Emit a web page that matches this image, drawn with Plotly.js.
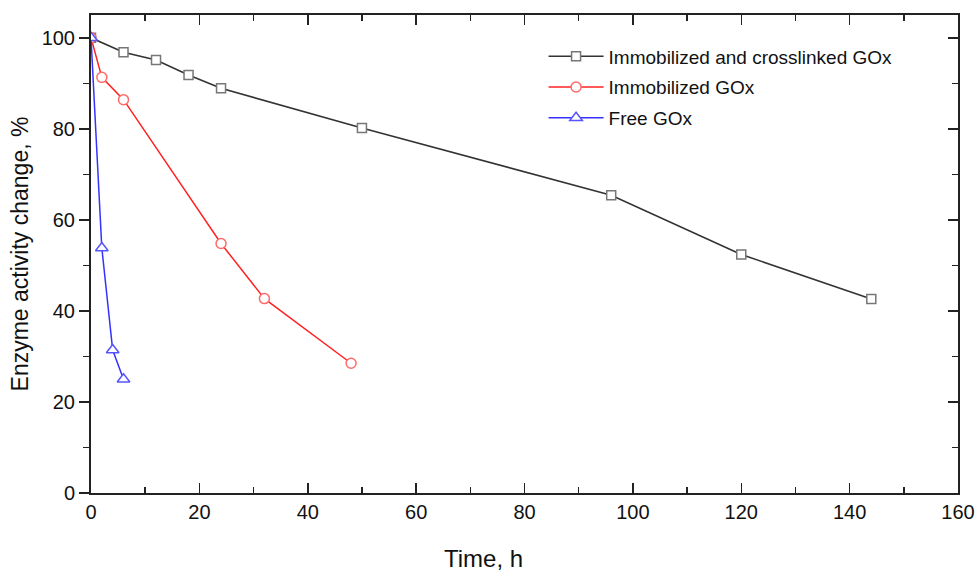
<!DOCTYPE html>
<html>
<head>
<meta charset="utf-8">
<script src="https://cdn.plot.ly/plotly-3.0.1.min.js"></script>
<style>html,body{margin:0;padding:0;background:#fff}#chart{width:977px;height:574px}</style>
</head>
<body>
<div id="chart"></div>
<script>
const seriesNames = ["Immobilized and crosslinked GOx", "Immobilized GOx", "Free GOx"];
const timeCross = [0, 6, 12, 18, 24, 50, 96, 120, 144];
const actCross = [100, 96.8, 95.1, 91.8, 88.9, 80.2, 65.4, 52.4, 42.6];
const timeImmob = [0, 2, 6, 24, 32, 48];
const actImmob = [100, 91.3, 86.4, 54.8, 42.7, 28.5];
const timeFree = [0, 2, 4, 6];
const actFree = [100, 53.8, 31.4, 25];
const xTitle = "Time, h";
const yTitle = "Enzyme activity change, %";

const font = "Liberation Sans, Arial, sans-serif";
const traces = [
  {x: timeCross, y: actCross, name: seriesNames[0], legendgroup: "a", mode: "lines+markers",
   line: {color: "#333333", width: 1.6},
   marker: {symbol: "square", size: 9, color: "#ffffff", line: {color: "#777777", width: 1.5}}},
  {x: timeImmob, y: actImmob, name: seriesNames[1], legendgroup: "b", mode: "lines+markers",
   line: {color: "#ff2222", width: 1.5},
   marker: {symbol: "circle", size: 10, color: "#ffffff", line: {color: "#ff6a6a", width: 1.5}}},
  {x: timeFree, y: actFree, name: seriesNames[2], legendgroup: "c", mode: "lines+markers",
   line: {color: "#3333ff", width: 1.5},
   marker: {symbol: "triangle-up", size: 11, color: "#ffffff", line: {color: "#5555ff", width: 1.5}}},
  {x: [0], y: [0], xaxis: "x2", yaxis: "y2", showlegend: false, hoverinfo: "skip",
   mode: "markers", marker: {opacity: 0}}
];

const tk = {showgrid: false, zeroline: false, showline: true, linecolor: "#222", linewidth: 2,
            ticklen: 10, tickwidth: 1.5, tickcolor: "#222", dtick: 20, tick0: 0};

const layout = {
  width: 977, height: 574,
  margin: {l: 91, r: 19, t: 15, b: 81},
  paper_bgcolor: "#fff", plot_bgcolor: "#fff",
  font: {family: font, color: "#111", size: 16},
  showlegend: true,
  legend: {x: 0.522, y: 0.953, xanchor: "left", yanchor: "top", bgcolor: "rgba(0,0,0,0)",
           font: {family: font, size: 19, color: "#111"}, itemwidth: 55, tracegroupgap: 3},
  xaxis: Object.assign({}, tk, {range: [0, 160], ticks: "inside",
          minor: {dtick: 10, ticks: "inside", ticklen: 6, tickwidth: 1.5, tickcolor: "#222", showgrid: false},
          tickfont: {family: font, size: 20, color: "#111"}}),
  yaxis: Object.assign({}, tk, {range: [0, 105], ticks: "outside",
          minor: {dtick: 10, ticks: "outside", ticklen: 6, tickwidth: 1.5, tickcolor: "#222", showgrid: false},
          tickfont: {family: font, size: 20, color: "#111"},
          title: {text: yTitle, font: {family: font, size: 23, color: "#111"}, standoff: 7}}),
  xaxis2: Object.assign({}, tk, {overlaying: "x", side: "top", range: [0, 160], showticklabels: false, ticks: "inside",
           minor: {dtick: 10, ticks: "inside", ticklen: 6, tickwidth: 1.5, tickcolor: "#222", showgrid: false}}),
  yaxis2: Object.assign({}, tk, {overlaying: "y", side: "right", range: [0, 105], showticklabels: false, ticks: "inside",
           minor: {dtick: 10, ticks: "inside", ticklen: 6, tickwidth: 1.5, tickcolor: "#222", showgrid: false}}),
  annotations: [{text: xTitle, xref: "paper", yref: "paper", x: 0.453, y: -0.138,
                 xanchor: "center", yanchor: "middle", showarrow: false,
                 font: {family: font, size: 24, color: "#111"}}]
};

Plotly.newPlot("chart", traces, layout, {displayModeBar: false, staticPlot: true});
</script>
</body>
</html>
